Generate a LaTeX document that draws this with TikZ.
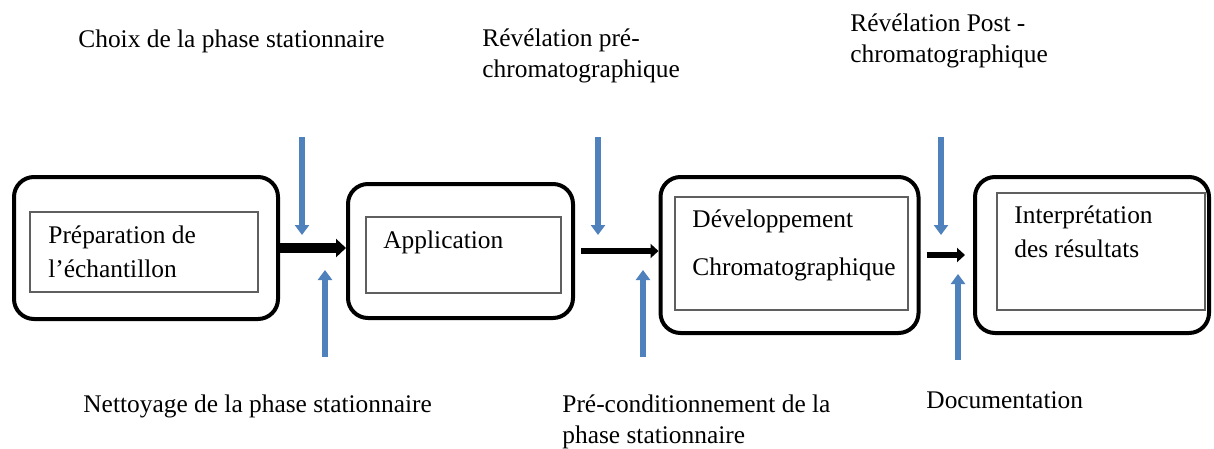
\documentclass[tikz,border=0pt]{standalone}
\usepackage{fontspec}
\setmainfont{Liberation Serif}
\usetikzlibrary{arrows.meta}

\definecolor{stepblue}{RGB}{79,129,189}
\definecolor{framegray}{RGB}{95,95,95}

\begin{document}
\begin{tikzpicture}[x=0.5pt,y=-0.5pt,
    stepbox/.style={draw=black,line width=2pt,rounded corners=10pt,inner sep=0pt},
    framebox/.style={draw=framegray,line width=0.6pt,inner sep=0pt},
    txt/.style={anchor=base west,inner sep=0pt,align=left,font=\fontsize{12.7}{15.5}\selectfont},
    bigflow/.style={line width=5pt,-{Triangle[length=5pt,width=9pt]}},
    flow/.style={line width=3pt,-{Triangle[length=4pt,width=7pt]}},
    hint/.style={stepblue,line width=3pt,-{Triangle[length=5pt,width=7pt]}}]

    \useasboundingbox (0,0) rectangle (1214,449);

    % outer steps
    \node[stepbox,minimum width=132pt,minimum height=71pt] (b1) at (146,248) {};
    \node[stepbox,minimum width=112.5pt,minimum height=67pt] (b2) at (460.5,251) {};
    \node[stepbox,minimum width=129pt,minimum height=78pt] (b3) at (789.5,255) {};
    \node[stepbox,minimum width=117pt,minimum height=78pt] (b4) at (1092,255) {};

    % inner frames
    \node[framebox,minimum width=114pt,minimum height=40pt] (f1) at (144,252) {};
    \node[framebox,minimum width=97.5pt,minimum height=38pt] (f2) at (463.5,255) {};
    \node[framebox,minimum width=116.5pt,minimum height=56.5pt] (f3) at (791.5,253.5) {};
    \node[framebox,minimum width=104pt,minimum height=58.5pt] (f4) at (1101,251.5) {};

    % base = last line
    \node[txt] (t1) at (48,277) {Préparation de\\[1.5pt]l’échantillon};
    \node[txt] (t2) at (383,248) {Application};
    \node[txt] (t3) at (692,275) {Développement\\[8.5pt]Chromatographique};
    \node[txt] (t4) at (1014,257) {Interprétation\\[1.5pt]des résultats};

    % labels above and below
    \node[txt] (l1) at (78,48) {Choix de la phase stationnaire};
    \node[txt] (l2) at (482,78) {Révélation pré-\\chromatographique};
    \node[txt] (l3) at (850,63) {Révélation Post -\\chromatographique};
    \node[txt] (l4) at (83,412) {Nettoyage de la phase stationnaire};
    \node[txt] (l5) at (562,443) {Pré-conditionnement de la\\phase stationnaire};
    \node[txt] (l6) at (926,408) {Documentation};

    \draw[bigflow] (b1.east) -- (b1.east -| b2.west);
    \draw[flow] ([xshift=3pt]b2.east) -- (b2.east -| b3.west);
    \draw[flow,shorten >=4pt] ([xshift=3pt]b3.east) -- (b3.east -| b4.west);

    \coordinate (in1a) at (302,137);
    \coordinate (in1b) at (302,235);
    \coordinate (up1a) at (325,357);
    \coordinate (up1b) at (325,270);
    \coordinate (in2a) at (598,137);
    \coordinate (in2b) at (598,235);
    \coordinate (up2a) at (643,357);
    \coordinate (up2b) at (643,270);
    \coordinate (in3a) at (941,137);
    \coordinate (in3b) at (941,235);
    \coordinate (up3a) at (958,360);
    \coordinate (up3b) at (958,274);

    \draw[hint] (in1a) -- (in1b);
    \draw[hint] (up1a) -- (up1b);
    \draw[hint] (in2a) -- (in2b);
    \draw[hint] (up2a) -- (up2b);
    \draw[hint] (in3a) -- (in3b);
    \draw[hint] (up3a) -- (up3b);

\end{tikzpicture}
\end{document}
